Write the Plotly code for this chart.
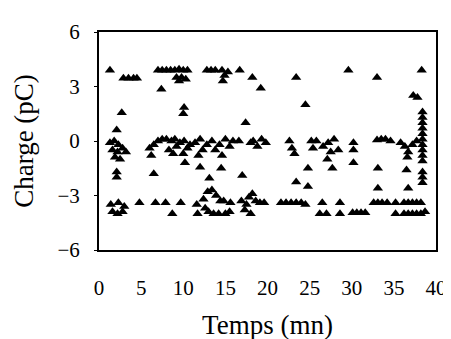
import plotly.graph_objects as go

# Time (mn) and charge (pC) of each detected discharge
temps = [
    1.3, 2.9, 3.5, 4.1, 4.5,
    7.0, 7.5, 8.0, 8.5, 9.0, 9.5, 10.0, 10.5, 9.2, 9.8, 10.3, 9.5,
    12.8, 13.3, 13.8, 14.6, 14.9, 14.7, 15.3, 16.7, 18.2, 19.2, 23.4, 24.5,
    29.6, 33.0, 37.3, 37.8, 38.3, 7.4, 2.7, 2.1, 10.0, 10.1, 17.4,
    1.3, 1.8, 2.3, 1.6, 2.2, 2.8, 1.9, 2.5, 3.2,
    6.0, 6.2, 6.5, 7.0, 7.5, 8.0, 8.6, 8.3, 8.8, 9.2, 9.6, 10.1, 10.5, 10.0, 10.8, 9.0,
    11.4, 12.0, 12.3, 11.8, 12.8, 13.4, 13.8, 14.3, 14.6, 15.0, 15.5, 15.9,
    16.6, 18.0, 18.3, 18.8, 19.3, 19.8,
    22.6, 22.9, 23.2, 25.2, 25.8, 25.4,
    26.6, 27.2, 27.9, 27.5, 27.1, 28.4,
    30.2, 30.2, 30.2, 33.0, 33.5, 34.0, 34.6,
    35.8, 36.3, 36.7, 37.2, 37.7, 36.6,
    38.4, 38.4, 38.4, 38.4, 38.4, 38.4, 38.4, 38.4, 38.4, 38.4, 38.4, 38.4, 38.4,
    10.2, 12.0, 14.5, 6.5, 13.1, 17.0, 2.1, 2.1,
    24.8, 27.7, 33.1, 36.5, 23.4, 24.8, 33.1, 36.7,
    1.4, 1.6, 2.2, 2.8, 2.3, 3.0,
    4.8, 6.7, 7.9, 8.7, 9.7, 11.6, 11.7,
    12.4, 12.9, 13.4, 13.9, 14.4, 14.8, 13.0, 13.6, 14.2, 15.0, 15.5, 15.6, 12.6,
    16.9, 17.3, 17.8, 18.2, 18.6, 19.1, 19.6, 18.0, 17.5,
    21.6, 22.2, 22.8, 23.4, 24.0, 24.5,
    26.5, 26.2, 27.0, 28.6, 28.6,
    30.1, 30.6, 31.1, 31.6,
    32.6, 33.1, 33.6, 34.2, 35.2, 35.2,
    36.2, 36.7, 37.2, 37.7, 38.2, 36.2, 36.7, 37.2, 37.7, 38.2, 38.7,
]
charge = [
    3.9, 3.45, 3.45, 3.45, 3.45,
    3.9, 3.9, 3.9, 3.9, 3.9, 3.95, 3.9, 3.9, 3.5, 3.5, 3.4, 3.3,
    3.9, 3.9, 3.9, 3.9, 3.6, 3.3, 3.8, 3.9, 3.5, 2.9, 3.5, 2.0,
    3.9, 3.5, 2.5, 2.4, 3.9, 2.85, 1.55, 0.6, 1.5, 1.85, 1.0,
    -0.1, 0.0, -0.2, -0.5, -0.6, -0.4, -0.9, -1.0, -0.6,
    -0.4, -0.8, -0.2, 0.0, 0.1, 0.1, 0.0, -0.5, -0.7, -0.3, -0.1, 0.0, -0.4, -0.7, -0.2, 0.1,
    -0.1, 0.1, -0.5, -0.8, -0.2, 0.0, -0.5, -0.2, -0.8, 0.1, -0.3, 0.0,
    0.0, -0.1, 0.0, -0.3, 0.1, -0.1,
    0.0, -0.4, -0.7, 0.0, 0.0, -0.4,
    -0.3, -0.1, 0.1, -0.6, -1.0, -0.5,
    -0.1, -0.5, -1.2, 0.05, 0.1, 0.1, 0.0,
    -0.1, -0.3, -0.6, -0.2, 0.0, -0.9,
    1.6, 1.3, 1.0, 0.7, 0.4, 0.1, -0.2, -0.5, -0.8, -1.1, -1.7, -2.0, -2.3,
    -1.2, -1.45, -1.5, -1.8, -2.05, -1.9, -1.7, -2.0,
    -1.5, -1.5, -1.5, -1.6, -2.25, -2.5, -2.6, -2.6,
    -3.5, -3.9, -4.0, -3.9, -3.4, -3.6,
    -3.4, -3.4, -3.4, -4.0, -3.4, -3.5, -4.0,
    -3.2, -2.8, -2.7, -3.0, -3.3, -3.3, -3.9, -4.0, -4.0, -4.0, -3.9, -3.4, -3.7,
    -3.3, -3.8, -3.1, -2.9, -3.3, -3.4, -3.4, -4.0, -3.5,
    -3.4, -3.4, -3.4, -3.4, -3.4, -3.5,
    -3.4, -4.0, -4.0, -3.4, -4.0,
    -3.95, -3.95, -3.95, -3.95,
    -3.4, -3.4, -3.4, -3.4, -3.4, -4.0,
    -3.4, -3.4, -3.4, -3.4, -3.4, -4.0, -4.0, -4.0, -4.0, -4.0, -3.9,
]

x_ticks = [0, 5, 10, 15, 20, 25, 30, 35, 40]
y_ticks = [-6, -3, 0, 3, 6]

FONT = "Liberation Serif, Times New Roman, serif"

fig = go.Figure(
    go.Scatter(
        x=temps, y=charge, mode="markers",
        marker=dict(symbol="triangle-up", size=9, color="black", line=dict(width=0)),
        showlegend=False,
    )
)

fig.update_layout(
    width=451, height=339,
    margin=dict(l=91, r=15, t=21, b=91),
    paper_bgcolor="white", plot_bgcolor="white",
    font=dict(family=FONT, color="black", size=21),
)
fig.update_xaxes(
    range=[0, 40], tickvals=x_ticks, showgrid=False, zeroline=False,
    showline=True, mirror=True, linecolor="black", linewidth=2,
    ticks="", ticklabelstandoff=18,
    tickfont=dict(family=FONT, size=21),
    title=dict(text="Temps (mn)", font=dict(family=FONT, size=27), standoff=16),
)
fig.update_yaxes(
    range=[-6, 6], tickvals=y_ticks, showgrid=False, zeroline=False,
    showline=True, mirror=True, linecolor="black", linewidth=2,
    ticks="outside", ticklen=3, tickwidth=1, tickcolor="black",
    ticklabelstandoff=10,
    tickfont=dict(family=FONT, size=21),
    title=dict(text="Charge (pC)", font=dict(family=FONT, size=27), standoff=16),
)

fig.write_html("out.html")
